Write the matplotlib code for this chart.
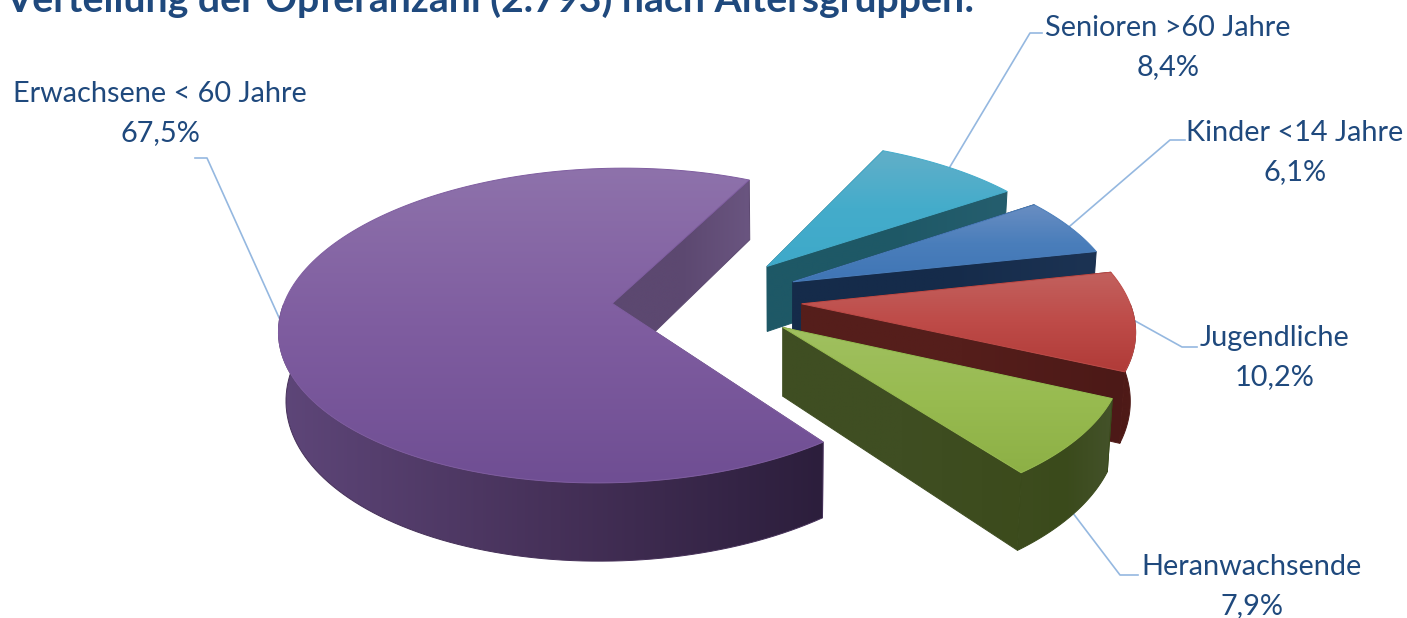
import numpy as np
import matplotlib
matplotlib.use("Agg")
import matplotlib.pyplot as plt
from matplotlib.colors import LinearSegmentedColormap
from matplotlib.patches import Polygon

title = "Verteilung der Opferanzahl (2.793) nach Altersgruppen:"
names = ["Erwachsene < 60 Jahre", "Heranwachsende", "Jugendliche", "Kinder <14 Jahre", "Senioren >60 Jahre"]
shares = [67.5, 7.9, 10.2, 6.1, 8.4]
share_labels = ["67,5%", "7,9%", "10,2%", "6,1%", "8,4%"]

top_colors = [
    ["#8E72AB", "#7F5DA0", "#6F4E93"],
    ["#A0C060", "#98BB50", "#8DB046"],
    ["#C2615E", "#BE4B48", "#B03B38"],
    ["#6A8EC2", "#4A7EBB", "#3F75B5"],
    ["#62AFC8", "#44ACCB", "#3EA9C9"],
]
wall_colors = [
    ["#5E4679", "#463159", "#2C1E3C"],
    ["#3D4C1E", "#3A4A1B", "#44522A"],
    ["#4E1A17", "#4E1A17", "#551D1A"],
    ["#182F4F", "#1A3050", "#1C3355"],
    ["#1F5A68", "#215C6A", "#265F70"],
]
side_colors = [
    ["#5C4870", "#6A5580"],
    ["#3F4E22", "#3C4B1C"],
    ["#551E1B", "#4C1917"],
    ["#152B4A", "#1C3353"],
    ["#1E5866", "#255E6E"],
]

# pie geometry in pixels
CX, CY = 707, 299
R = 327
S = 0.468
K = 0.14
H = 67
EXPLODE = 0.29
START = 64.3
VX = 780
SHRINK = 0.985

# label centre x, first line y, elbow and end of the leader
label_pos = [(160, 94), (1252, 567), (1275, 338), (1295, 133), (1168, 28)]
elbows = [(207, 158), (1120, 575), (1182, 347), (1170, 140), (1030, 33)]
ends = [(195, 158), (1138, 575), (1197, 347), (1185, 140), (1042, 33)]
tip_on_bottom = [False, True, False, False, False]


def project(x, y, depth=0.0):
    w = 1 + K * y
    px = CX + R * x / w
    py = CY - R * S * y / w + depth * H / w
    px = VX + (px - VX) * (1 - (1 - SHRINK) * depth)
    return px, py


def gradient_fill(ax, points, colors, vertical, zorder):
    points = np.array(points)
    cmap = LinearSegmentedColormap.from_list("g", colors)
    x0, y0 = points.min(axis=0)
    x1, y1 = points.max(axis=0)
    ramp = np.linspace(0, 1, 256)
    grad = ramp[:, None] if vertical else ramp[None, :]
    im = ax.imshow(grad, extent=(x0, x1, y1, y0), origin="upper", cmap=cmap,
                   vmin=0, vmax=1, aspect="auto", zorder=zorder, interpolation="bilinear")
    clip = Polygon(points, closed=True, transform=ax.transData, fc="none", ec=colors[1],
                   lw=0.7, zorder=zorder)
    ax.add_patch(clip)
    im.set_clip_path(clip)


fig = plt.figure(figsize=(14.07, 6.18), dpi=100)
ax = fig.add_axes([0, 0, 1, 1])

fractions = np.array(shares) / sum(shares)
edges = START + 360 * np.concatenate([[0], np.cumsum(fractions)])
mids = (edges[:-1] + edges[1:]) / 2

#
# Leader lines, under the slices
#
for i in range(len(shares)):
    m = np.radians(mids[i])
    ox, oy = EXPLODE * np.cos(m), EXPLODE * np.sin(m)
    tip = project(ox + np.cos(m), oy + np.sin(m), 1.0 if tip_on_bottom[i] else 0.0)
    ax.plot([tip[0], elbows[i][0], ends[i][0]], [tip[1], elbows[i][1], ends[i][1]],
            color="#95B8E0", lw=1.2, zorder=1)

#
# Slices, back to front
#
z = 2
for i in [0, 4, 3, 2, 1]:
    a0, a1 = np.radians(edges[i]), np.radians(edges[i + 1])
    m = np.radians(mids[i])
    ox, oy = EXPLODE * np.cos(m), EXPLODE * np.sin(m)
    arc = np.linspace(a0, a1, 160)
    rim_x, rim_y = ox + np.cos(arc), oy + np.sin(arc)
    top_rim = [project(x, y) for x, y in zip(rim_x, rim_y)]

    # side walls: the end of the slice first, it is the hidden one
    for rx, ry in [(rim_x[-1], rim_y[-1]), (rim_x[0], rim_y[0])]:
        wall = [project(ox, oy), project(rx, ry), project(rx, ry, 1.0), project(ox, oy, 1.0)]
        gradient_fill(ax, wall, [side_colors[i][0], side_colors[i][0], side_colors[i][1]], False, z)
        z += 1

    # the round wall shows only where it faces the viewer
    front = np.sin(arc) <= 0.0
    if front.sum() > 1:
        upper = [p for p, keep in zip(top_rim, front) if keep]
        lower = [project(x, y, 1.0) for x, y in zip(rim_x[front], rim_y[front])]
        gradient_fill(ax, upper + lower[::-1], wall_colors[i], False, z)
        z += 1

    gradient_fill(ax, [project(ox, oy)] + top_rim, top_colors[i], True, z)
    z += 1

#
# Labels
#
for i in range(len(names)):
    x, y = label_pos[i]
    ax.text(x, y, names[i], ha="center", va="center", family="Lato", fontsize=20.8,
            color="#1F497D", zorder=100)
    ax.text(x, y + 39, share_labels[i], ha="center", va="center", family="Lato", fontsize=20.8,
            color="#1F497D", zorder=100)

ax.text(5, 12, title, ha="left", va="baseline", family="Lato", fontweight="bold", fontsize=28.3,
        color="#1F497D", zorder=100)

ax.set_xlim(0, 1407)
ax.set_ylim(618, 0)
ax.axis("off")

fig.savefig("out.png", dpi=100)
